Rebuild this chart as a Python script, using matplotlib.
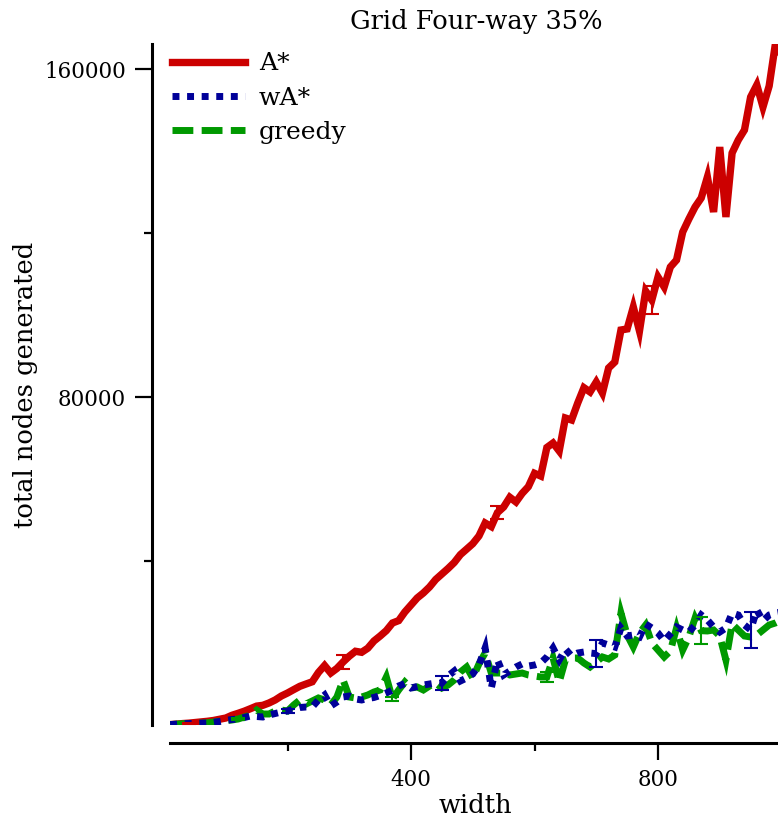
import numpy as np
import matplotlib.pyplot as plt

plt.rcParams['font.family'] = ['DejaVu Serif']

# widths 10..1000 step 10
widths = list(range(10, 1001, 10))

astar = [100, 200, 350, 450, 600, 750, 900, 1100, 1400, 1700,
         2370, 2850, 3370, 3980, 4610, 4800, 5370, 6100, 7070, 7800,
         8630, 9440, 10000, 10540, 12800, 14510, 12680, 13800, 15370, 16780,
         17980, 17730, 18730, 20490, 21700, 23020, 24880, 25460, 27560, 29270,
         30980, 32200, 33660, 35490, 36830, 38170, 39630, 41560, 42880, 44220,
         46100, 49270, 48390, 51800, 53170, 55540, 54390, 56490, 58120, 61390,
         60730, 67680, 68780, 66830, 74880, 74390, 78540, 82270, 81220, 83660,
         80970, 87070, 88530, 96340, 96600, 101950, 96100, 105850, 103660, 109270,
         106830, 111710, 113410, 120240, 123410, 126340, 128540, 133660, 125120, 140970,
         123900, 139510, 142680, 145120, 153170, 156100, 150730, 155850, 166000, 163400]

wastar = [100, 200, 300, 350, 400, 450, 500, 650, 850, 1100,
          1340, 1460, 1830, 2200, 2070, 1950, 2440, 2800, 3170, 3410,
          3900, 4270, 4390, 4390, 6100, 7320, 4630, 5610, 6830, 7070,
          6340, 6100, 6460, 6710, 7200, 7800, 8540, 9510, 10120, 9020,
          9390, 9760, 10000, 10240, 10240, 11950, 13170, 10730, 11460, 12440,
          14630, 18800, 9000, 15850, 12200, 13170, 14150, 14880, 14390, 14630,
          15120, 16590, 18780, 15850, 18540, 16830, 17560, 17800, 17560, 17400,
          20000, 19510, 19020, 23660, 21710, 21950, 21460, 24630, 23660, 22440,
          20490, 22200, 23900, 23170, 22680, 24390, 26830, 25610, 23900, 22680,
          23660, 27320, 26830, 24390, 23200, 28050, 25370, 26830, 27320, 27560]

greedy = [100, 200, 300, 350, 400, 450, 550, 700, 900, 1100,
          1220, 1460, 1950, 2440, 3660, 2680, 2680, 3410, 3660, 3410,
          4880, 6100, 5120, 5850, 6590, 6100, 4880, 6830, 10980, 6830,
          6590, 6830, 7320, 8050, 8540, 11710, 6340, 8540, 10490, 9020,
          9270, 8540, 9510, 10240, 9020, 9760, 10980, 12930, 14150, 11460,
          14880, 17560, 12680, 12680, 12680, 12200, 12440, 12680, 12200, 11950,
          11710, 11710, 16340, 10490, 15850, 16340, 16340, 15120, 14150, 15370,
          16590, 16100, 17070, 27320, 21950, 19020, 22440, 24390, 20000, 18290,
          16590, 18050, 23660, 18290, 21460, 26100, 23000, 22930, 23170, 21710,
          15850, 24630, 23170, 21710, 21460, 21950, 23170, 24390, 24880, 25610]

# error bars (width, half-size)
astar_err_w = [40, 290, 540, 790]
astar_err = [100, 1700, 1600, 3300]
wastar_err_w = [200, 450, 700, 950]
wastar_err = [600, 1800, 3300, 4300]
greedy_err_w = [120, 370, 620, 870]
greedy_err = [200, 500, 1200, 3300]

red = '#cc0000'
blue = '#000099'
green = '#009900'

fig = plt.figure(figsize=(7.78, 8.24), dpi=100)
ax = fig.add_axes([170.2 / 778, 99 / 824, 611.3 / 778, 680.6 / 824])

ax.plot(widths, astar, color=red, lw=5.3, solid_joinstyle='miter', label='A*')
ax.plot(widths, greedy, color=green, lw=5, linestyle=(0, (3, 1.2)),
        dash_joinstyle='miter', dash_capstyle='butt', label='greedy')
ax.plot(widths, wastar, color=blue, lw=5, linestyle=(0, (1, 1.1)),
        dash_joinstyle='miter', dash_capstyle='butt', label='wA*')


def err(ws, errs, series, c):
    ys = [series[widths.index(w)] for w in ws]
    ax.errorbar(ws, ys, yerr=errs, fmt='none', ecolor=c, elinewidth=1.5,
                capsize=5, capthick=1.5)


err(astar_err_w, astar_err, astar, red)
err(greedy_err_w, greedy_err, greedy, green)
err(wastar_err_w, wastar_err, wastar, blue)

ax.set_xlim(10, 1000)
ax.set_ylim(0, 166000)

for s in ['top', 'right']:
    ax.spines[s].set_visible(False)
for s in ['left', 'bottom']:
    ax.spines[s].set_position(('outward', 13))
    ax.spines[s].set_linewidth(2.2)

ax.set_xticks([400, 800])
ax.set_xticks([200, 600], minor=True)
ax.set_yticks([80000, 160000])
ax.set_yticks([40000, 120000], minor=True)
ax.tick_params(which='major', length=12, width=1.6, labelsize=15.5, pad=7)
ax.tick_params(which='minor', length=6, width=1.6)

ax.set_title('Grid Four-way 35%', fontsize=18.5, pad=11)
ax.set_xlabel('width', fontsize=18.5)
ax.xaxis.set_label_coords(0.5, -0.1)
ax.set_ylabel('total nodes generated', fontsize=18.5)
ax.yaxis.set_label_coords(-0.217, 0.5)

h, l = ax.get_legend_handles_labels()
order = [0, 2, 1]
ax.legend([h[i] for i in order], [l[i] for i in order], loc='upper left',
          bbox_to_anchor=(-0.013, 1.003), frameon=False, fontsize=18,
          handlelength=2.9, handletextpad=0.56, labelspacing=0.45,
          borderaxespad=0.0, borderpad=0.4)

fig.savefig('out.png', dpi=100)
